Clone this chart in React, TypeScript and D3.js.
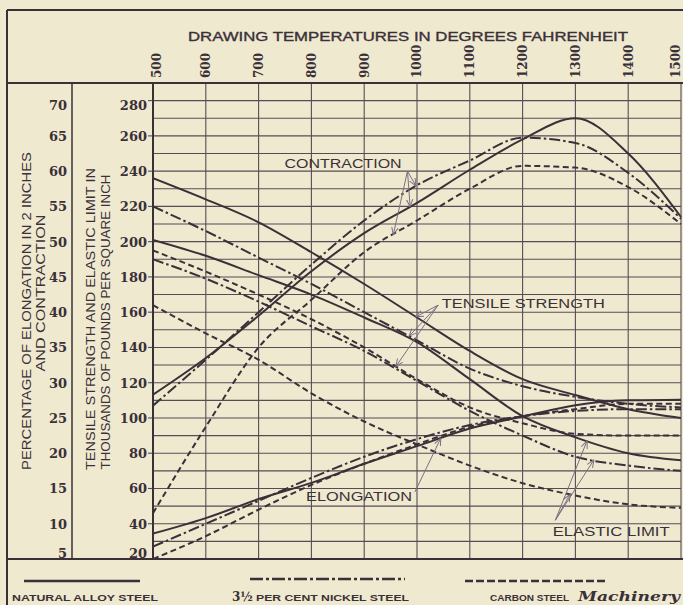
import * as d3 from "d3";

// drawing temperatures, deg F
const temps = [500, 600, 700, 800, 900, 1000, 1100, 1200, 1300, 1400, 1500];

// thousands of pounds per square inch
const alloyTensile = [236, 224, 211, 194, 176, 157, 138, 122, 113, 105, 100];
const alloyElastic = [201, 192, 181, 170, 157, 143, 122, 101, 89, 80, 76];
const nickelTensile = [220, 206, 191, 176, 160, 144, 128, 118, 112, 108, 106];
const nickelElastic = [190, 179, 166, 152, 138, 121, 104, 90, 78, 73, 70];
const carbonTensile = [195, 183, 170, 156, 140, 122, 106, 97, 91, 90, 90];
const carbonElastic = [164, 148, 133, 114, 98, 85, 73, 63, 56, 51, 49];

// per cent
const alloyElong = [8.6, 10.8, 13.5, 15.8, 18.5, 21, 23.5, 25.2, 26.8, 27.5, 27.6];
const alloyContr = [28.3, 33.5, 39.5, 45.8, 51.2, 55.5, 60.2, 64.5, 67.5, 62.5, 53.5];
const nickelElong = [6.75, 10, 13.25, 16.5, 19.5, 22, 24, 25.25, 26, 26.25, 26.25];
const nickelContr = [26.75, 33.25, 40, 46.75, 53, 58, 61.5, 64.75, 64, 59.75, 53.25];
const carbonElong = [5, 8.25, 12, 15.5, 18.5, 21.25, 23.75, 25.25, 26.25, 27, 27];
const carbonContr = [11.5, 23.75, 35, 41.75, 48.5, 53, 57.5, 60.75, 60.5, 57.75, 52.5];

const percentTicks = [5, 10, 15, 20, 25, 30, 35, 40, 45, 50, 55, 60, 65, 70];
const poundTicks = [20, 40, 60, 80, 100, 120, 140, 160, 180, 200, 220, 240, 260, 280];

const PAPER = "#efe9d0";
const INK = "#3a3038";
const GRID = "#574c55";
const ARROW = "#7a7080";
const SANS = "'Liberation Sans', Arial, sans-serif";
const SERIF = "'DejaVu Serif', serif";

const DASH: Record<string, string | undefined> = {
  solid: undefined,
  dashdot: "11,3,2.5,3",
  dashed: "6,3.5",
};

export default function App() {
  const W = 683,
    H = 605;
  const left = 153,
    right = 681,
    top = 83,
    bottom = 559;

  const x = d3.scaleLinear().domain([500, 1500]).range([left, right]);
  const yK = d3.scaleLinear().domain([20, 290]).range([bottom, top]);
  const yP = d3.scaleLinear().domain([5, 72.5]).range([bottom, top]);

  const series = [
    { v: alloyTensile, s: yK, st: "solid" },
    { v: alloyElastic, s: yK, st: "solid" },
    { v: alloyElong, s: yP, st: "solid" },
    { v: alloyContr, s: yP, st: "solid" },
    { v: nickelTensile, s: yK, st: "dashdot" },
    { v: nickelElastic, s: yK, st: "dashdot" },
    { v: nickelElong, s: yP, st: "dashdot" },
    { v: nickelContr, s: yP, st: "dashdot" },
    { v: carbonTensile, s: yK, st: "dashed" },
    { v: carbonElastic, s: yK, st: "dashed" },
    { v: carbonElong, s: yP, st: "dashed" },
    { v: carbonContr, s: yP, st: "dashed" },
  ];

  const at = (vals: number[], t: number) =>
    d3.scaleLinear().domain(temps).range(vals)(t);

  // annotations, placed in chart units (deg F, thousands of lb)
  const notes = [
    {
      text: "CONTRACTION", t: 860, k: 242, anchor: "middle", len: 117,
      from: [982, 240],
      to: [[nickelContr, 998, yP], [alloyContr, 987, yP], [carbonContr, 955, yP]],
    },
    {
      text: "TENSILE STRENGTH", t: 1047, k: 162.5, anchor: "start", len: 163,
      from: [1040, 164],
      to: [[alloyTensile, 998, yK], [nickelTensile, 985, yK], [carbonTensile, 960, yK]],
    },
    {
      text: "ELONGATION", t: 790, k: 53, anchor: "start", len: 106,
      from: [996, 58],
      to: [[alloyElong, 1045, yP]],
    },
    {
      text: "ELASTIC LIMIT", t: 1257, k: 33, anchor: "start", len: 117,
      from: [1262, 42],
      to: [[alloyElastic, 1322, yK], [nickelElastic, 1335, yK], [carbonElastic, 1290, yK]],
    },
  ];

  const line = (s: any) =>
    d3
      .line<number>()
      .x((_, i) => x(temps[i]))
      .y((d) => s(d))
      .curve(d3.curveMonotoneX);

  return (
    <svg
      width={W}
      height={H}
      style={{ position: "absolute", left: 0, top: 0, display: "block" }}
    >
      <defs>
        <clipPath id="plot">
          <rect x={left} y={top} width={right - left + 2} height={bottom - top} />
        </clipPath>
        <marker
          id="arr"
          viewBox="0 0 8 8"
          refX="7.5"
          refY="4"
          markerWidth="8"
          markerHeight="8"
          markerUnits="userSpaceOnUse"
          orient="auto"
        >
          <path d="M0,0.8 L7.5,4 L0,7.2" fill="none" stroke={ARROW} strokeWidth={1} />
        </marker>
      </defs>
      <rect width={W} height={H} fill={PAPER} />

      {/* grid */}
      {d3.range(30, 290, 10).map((k) => (
        <line key={"h" + k} x1={left} x2={right} y1={yK(k)} y2={yK(k)} stroke={GRID} strokeWidth={1.1} />
      ))}
      {temps.slice(1).map((t) => (
        <line key={"v" + t} x1={x(t)} x2={x(t)} y1={top} y2={bottom} stroke={GRID} strokeWidth={1.1} />
      ))}
      {poundTicks.map((k) => (
        <line key={"tk" + k} x1={left - 5} x2={left} y1={yK(k)} y2={yK(k)} stroke={GRID} strokeWidth={1.1} />
      ))}

      {/* frame */}
      <g stroke={INK} strokeWidth={2} fill="none">
        <line x1={7} x2={W} y1={10} y2={10} />
        <line x1={7} x2={7} y1={10} y2={H} />
        <line x1={7} x2={W} y1={top} y2={top} />
        <line x1={7} x2={W} y1={bottom} y2={bottom} />
        <line x1={left} x2={left} y1={top} y2={bottom} />
        <line x1={72} x2={72} y1={top} y2={bottom} strokeWidth={1.5} />
      </g>

      {/* header */}
      <text
        x={188}
        y={41}
        fontFamily={SANS}
        fontSize={13}
        fontWeight={400}
        stroke={INK}
        strokeWidth={0.35}
        fill={INK}
        textLength={440}
        lengthAdjust="spacingAndGlyphs"
      >
        DRAWING TEMPERATURES IN DEGREES FAHRENHEIT
      </text>
      {temps.map((t) => {
        const cx = Math.min(Math.max(x(t), 157), 676) + 4.3;
        return (
          <text
            key={"tl" + t}
            transform={`translate(${cx},78) rotate(-90)`}
            fontFamily={SERIF}
            fontSize={12}
            fontWeight={700}
            fill={INK}
          >
            {t}
          </text>
        );
      })}

      {/* left axes */}
      {percentTicks.map((p, i) => (
        <text
          key={"pl" + p}
          x={67}
          y={yP(p) + 5 + (i === percentTicks.length - 1 ? 4 : 0) - (i === 0 ? 6 : 0)}
          textAnchor="end"
          fontFamily={SERIF}
          fontSize={13}
          fontWeight={700}
          fill={INK}
        >
          {p}
        </text>
      ))}
      {poundTicks.map((k, i) => (
        <text
          key={"kl" + k}
          x={147}
          y={yK(k) + 5 + (i === poundTicks.length - 1 ? 4 : 0) - (i === 0 ? 6 : 0)}
          textAnchor="end"
          fontFamily={SERIF}
          fontSize={13}
          fontWeight={700}
          fill={INK}
        >
          {k}
        </text>
      ))}
      {[
        { t: "PERCENTAGE OF ELONGATION IN 2 INCHES", bx: 30.5, c: 311, len: 318 },
        { t: "AND CONTRACTION", bx: 45, c: 293, len: 157 },
        { t: "TENSILE STRENGTH AND ELASTIC LIMIT IN", bx: 95, c: 319, len: 302 },
        { t: "THOUSANDS OF POUNDS PER SQUARE INCH", bx: 110, c: 322, len: 295 },
      ].map((d) => (
        <text
          key={d.t}
          transform={`translate(${d.bx},${d.c}) rotate(-90)`}
          textAnchor="middle"
          fontFamily={SANS}
          fontSize={13}
          fill={INK}
          textLength={d.len}
          lengthAdjust="spacingAndGlyphs"
        >
          {d.t}
        </text>
      ))}

      {/* curves */}
      <g clipPath="url(#plot)" fill="none" stroke={INK} strokeWidth={2}>
        {series.map((d, i) => (
          <path key={"c" + i} d={line(d.s)(d.v) || ""} strokeDasharray={DASH[d.st]} />
        ))}
      </g>

      {/* annotations */}
      {notes.map((n) => (
        <g key={n.text}>
          {n.to.map(([vals, t, s]: any, j) => (
            <line
              key={j}
              x1={x(n.from[0])}
              y1={yK(n.from[1])}
              x2={x(t)}
              y2={s(at(vals, t))}
              stroke={ARROW}
              strokeWidth={1}
              markerEnd="url(#arr)"
            />
          ))}
          <text
            x={x(n.t)}
            y={yK(n.k)}
            textAnchor={n.anchor as any}
            fontFamily={SANS}
            fontSize={12}
            fill={INK}
            textLength={n.len}
            lengthAdjust="spacingAndGlyphs"
          >
            {n.text}
          </text>
        </g>
      ))}

      {/* legend */}
      <g stroke={INK} strokeWidth={2.6}>
        <line x1={24} x2={140} y1={581} y2={581} />
        <line x1={250} x2={405} y1={579} y2={579} strokeDasharray="13,3,3,3" />
        <line x1={465} x2={607} y1={581} y2={581} strokeDasharray="8,3" />
      </g>
      <g fontFamily={SANS} fontSize={9.5} fontWeight={700} fill={INK}>
        <text x={12} y={601} textLength={146} lengthAdjust="spacingAndGlyphs">
          NATURAL ALLOY STEEL
        </text>
        <text x={232} y={601} fontFamily={SERIF} fontSize={12}>
          3½
        </text>
        <text x={256} y={601} textLength={153} lengthAdjust="spacingAndGlyphs">
          PER CENT NICKEL STEEL
        </text>
        <text x={490} y={601} textLength={79} lengthAdjust="spacingAndGlyphs">
          CARBON STEEL
        </text>
        <text
          x={578}
          y={601}
          fontFamily={SERIF}
          fontStyle="italic"
          fontSize={13}
          textLength={102}
          lengthAdjust="spacingAndGlyphs"
        >
          Machinery
        </text>
      </g>
    </svg>
  );
}
